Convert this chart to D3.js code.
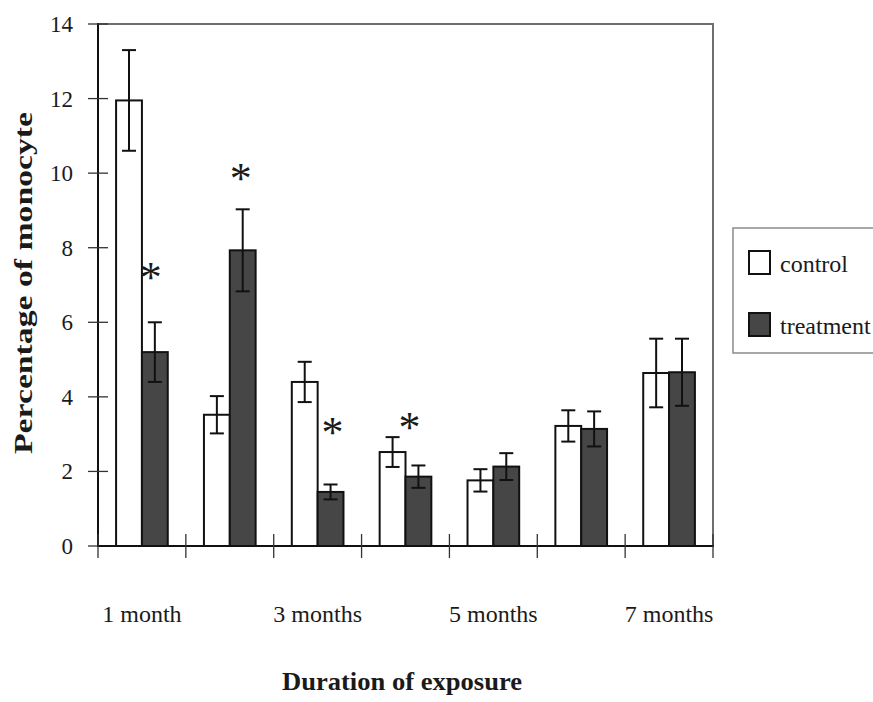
<!DOCTYPE html>
<html>
<head>
<meta charset="utf-8">
<script src="https://cdn.jsdelivr.net/npm/d3@7"></script>
<style>
  html, body { margin: 0; padding: 0; background: #fff; }
  svg { display: block; }
  text { font-family: "Liberation Serif", "Times New Roman", serif; fill: #1a1a1a; }
</style>
</head>
<body>
<svg id="chart" width="873" height="702" font-family="Liberation Serif, serif"></svg>
<script>
// Exposure durations (one band per month) and the labels printed under the axis
const categories = ["1", "2", "3", "4", "5", "6", "7"];
const xTickLabels = ["1 month", "", "3 months", "", "5 months", "", "7 months"];
const series = ["control", "treatment"];

// Mean percentage of monocytes and error (half-length of the bar)
const controlValues   = [11.95, 3.52, 4.40, 2.52, 1.76, 3.22, 4.64];
const controlErrors   = [1.35, 0.50, 0.54, 0.40, 0.30, 0.42, 0.92];
const treatmentValues = [5.20, 7.93, 1.45, 1.86, 2.13, 3.14, 4.66];
const treatmentErrors = [0.80, 1.10, 0.20, 0.30, 0.36, 0.47, 0.90];

// Significance markers: category, series, height in data units
const markers = [
  { cat: "1", s: "treatment", y: 7.35, dx: -4 },
  { cat: "2", s: "treatment", y: 10.0, dx: -2 },
  { cat: "3", s: "treatment", y: 3.18, dx: 2 },
  { cat: "4", s: "treatment", y: 3.32, dx: -9 }
];

const yTicks = [0, 2, 4, 6, 8, 10, 12, 14];

const svg = d3.select("#chart");
const plotLeft = 98, plotRight = 713, plotTop = 24, plotBottom = 546;

const x = d3.scaleBand().domain(categories).range([plotLeft, plotRight]).padding(0);
const xs = d3.scaleBand().domain(series).range([0, x.bandwidth()])
  .paddingInner(0).paddingOuter(0.7);
const y = d3.scaleLinear().domain([0, 14]).range([plotBottom, plotTop]);

const rows = categories.map((c, i) => ({
  cat: c,
  vals: [
    { s: "control", v: controlValues[i], e: controlErrors[i] },
    { s: "treatment", v: treatmentValues[i], e: treatmentErrors[i] }
  ]
}));

const fillOf = { control: "#ffffff", treatment: "#464646" };

// Frame: top and right edges in grey
svg.append("path")
  .attr("d", `M${plotLeft},${plotTop}H${plotRight}V${plotBottom}`)
  .attr("fill", "none").attr("stroke", "#6e6e6e").attr("stroke-width", 2);

// Bars
const g = svg.append("g").selectAll("g").data(rows).join("g")
  .attr("transform", d => `translate(${x(d.cat)},0)`);

g.selectAll("rect").data(d => d.vals).join("rect")
  .attr("x", d => xs(d.s))
  .attr("width", xs.bandwidth())
  .attr("y", d => y(d.v))
  .attr("height", d => y(0) - y(d.v))
  .attr("fill", d => fillOf[d.s])
  .attr("stroke", "#111").attr("stroke-width", 2);

// Error bars
const eb = g.selectAll("g.err").data(d => d.vals).join("g").attr("class", "err")
  .attr("transform", d => `translate(${xs(d.s) + xs.bandwidth() / 2},0)`);
eb.append("line")
  .attr("y1", d => y(d.v + d.e)).attr("y2", d => y(d.v - d.e))
  .attr("stroke", "#111").attr("stroke-width", 2);
eb.selectAll("line.cap").data(d => [d.v + d.e, d.v - d.e]).join("line")
  .attr("class", "cap")
  .attr("x1", -7).attr("x2", 7)
  .attr("y1", v => y(v)).attr("y2", v => y(v))
  .attr("stroke", "#111").attr("stroke-width", 2);

// Significance asterisks
svg.append("g").selectAll("text").data(markers).join("text")
  .attr("x", d => x(d.cat) + xs(d.s) + xs.bandwidth() / 2 + (d.dx || 0))
  .attr("y", d => y(d.y))
  .attr("dy", "0.45em")
  .attr("text-anchor", "middle")
  .attr("font-size", 44)
  .text("*");

// Y axis
const yAxis = svg.append("g").attr("transform", `translate(${plotLeft},0)`);
yAxis.append("line").attr("y1", plotTop - 1).attr("y2", plotBottom + 1)
  .attr("stroke", "#111").attr("stroke-width", 2);
yAxis.selectAll("line.tick").data(yTicks).join("line").attr("class", "tick")
  .attr("x1", -10).attr("x2", 10)
  .attr("y1", d => y(d)).attr("y2", d => y(d))
  .attr("stroke", "#333").attr("stroke-width", 1.3);
yAxis.selectAll("text").data(yTicks).join("text")
  .attr("x", -25).attr("y", d => y(d)).attr("dy", "0.35em")
  .attr("text-anchor", "end").attr("font-size", 23)
  .text(d => d);

// X axis
const xAxis = svg.append("g").attr("transform", `translate(0,${plotBottom})`);
xAxis.append("line").attr("x1", plotLeft - 1).attr("x2", plotRight + 1)
  .attr("stroke", "#111").attr("stroke-width", 2);
const edges = categories.map(c => x(c)).concat([plotRight]);
xAxis.selectAll("line.tick").data(edges).join("line").attr("class", "tick")
  .attr("x1", d => d).attr("x2", d => d)
  .attr("y1", -12).attr("y2", 12)
  .attr("stroke", "#333").attr("stroke-width", 1.3);
xAxis.selectAll("text").data(categories).join("text")
  .attr("x", c => x(c) + x.bandwidth() / 2)
  .attr("y", 76)
  .attr("text-anchor", "middle").attr("font-size", 24)
  .text((c, i) => xTickLabels[i]);

// Axis titles
svg.append("text")
  .attr("x", 402).attr("y", 690)
  .attr("text-anchor", "middle").attr("font-size", 25).attr("font-weight", "bold")
  .attr("textLength", 240).attr("lengthAdjust", "spacingAndGlyphs")
  .text("Duration of exposure");
svg.append("text")
  .attr("transform", "translate(32,283) rotate(-90)")
  .attr("text-anchor", "middle").attr("font-size", 26).attr("font-weight", "bold")
  .attr("textLength", 342).attr("lengthAdjust", "spacingAndGlyphs")
  .text("Percentage of monocyte");

// Legend
const lg = svg.append("g");
lg.append("rect").attr("x", 733).attr("y", 228).attr("width", 160).attr("height", 125)
  .attr("fill", "#fff").attr("stroke", "#8a8a8a").attr("stroke-width", 1.5);
const items = lg.selectAll("g.item").data(series).join("g").attr("class", "item")
  .attr("transform", (d, i) => `translate(749,${251 + i * 62})`);
items.append("rect").attr("width", 21).attr("height", 23)
  .attr("fill", d => fillOf[d]).attr("stroke", "#111").attr("stroke-width", 2);
items.append("text").attr("x", 31).attr("y", 21).attr("font-size", 24)
  .text(d => d);
</script>
</body>
</html>
